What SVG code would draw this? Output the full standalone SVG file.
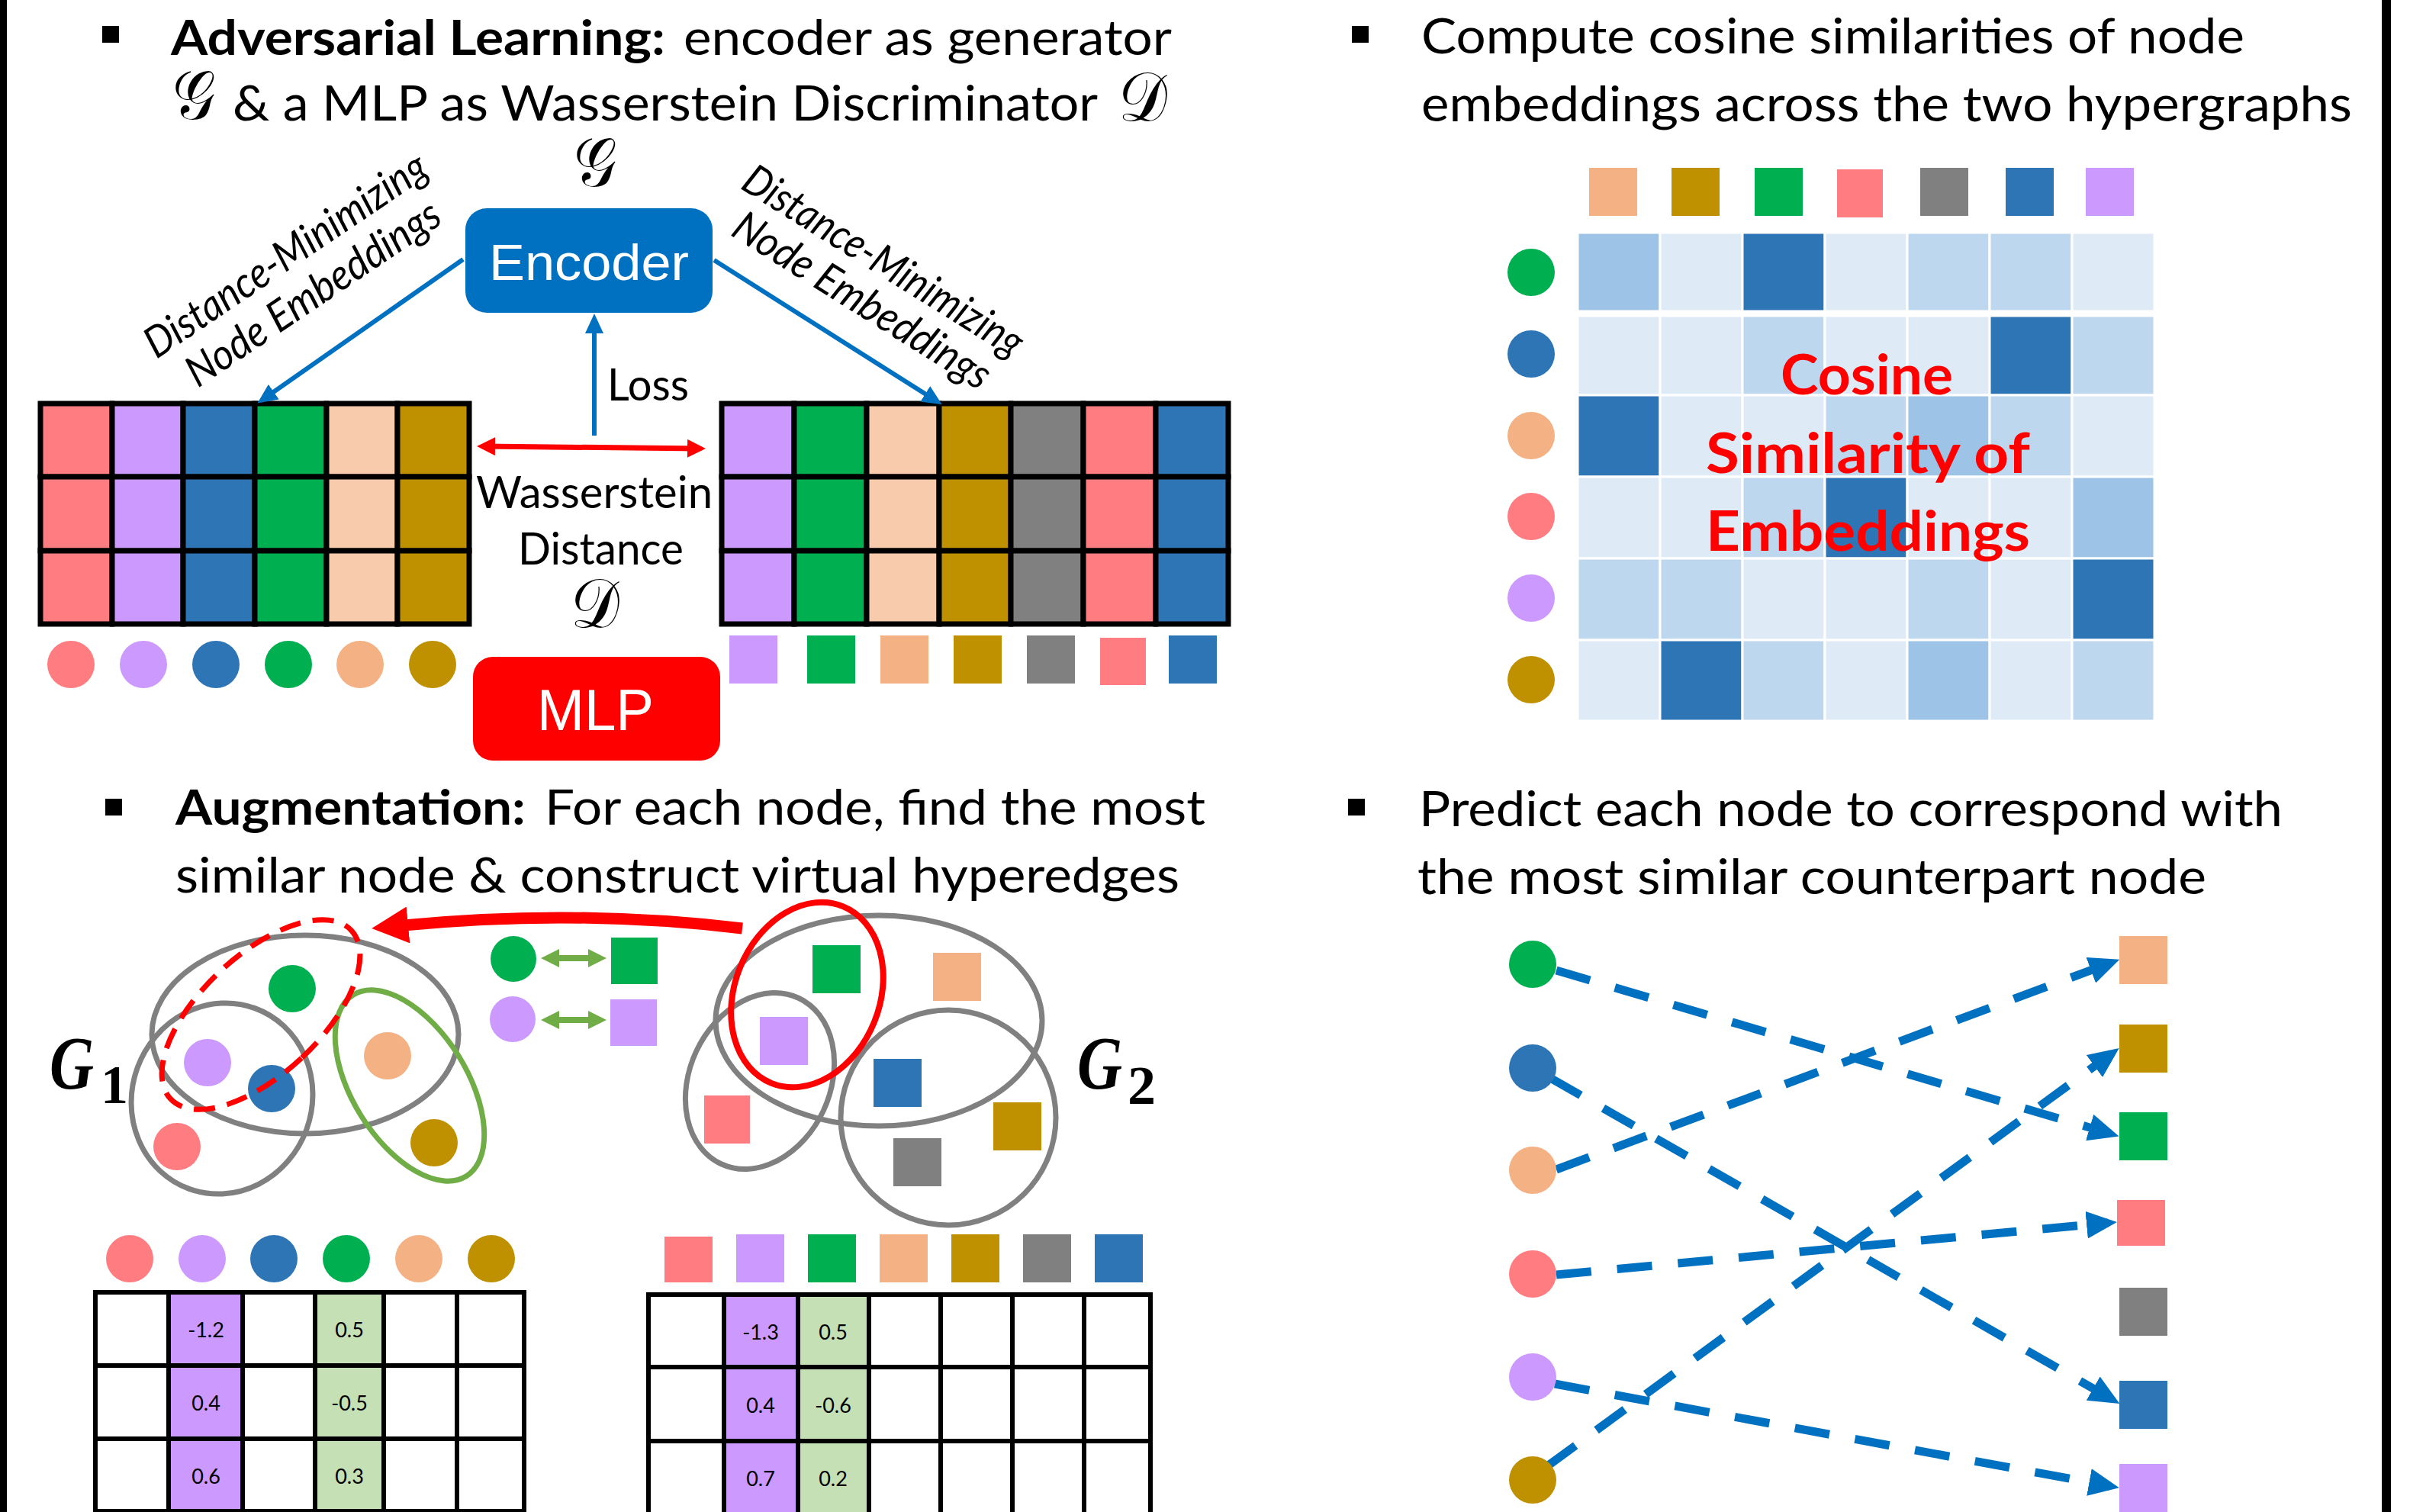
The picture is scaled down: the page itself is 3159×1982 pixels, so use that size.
<svg xmlns="http://www.w3.org/2000/svg" width="3159" height="1982" viewBox="0 0 3159 1982">
  <style>
    .h{font-family:Lato,"Open Sans",sans-serif;font-size:64px;fill:#000}
    .bd{font-weight:bold}
    .lbl{font-family:Lato,"Open Sans",sans-serif;font-size:58px;fill:#000}
    .rot{font-family:Lato,"Open Sans",sans-serif;font-size:56px;font-style:italic;fill:#000;text-anchor:middle}
    .math{font-family:"DejaVu Sans","DejaVu Serif","Noto Sans",serif;font-size:90px;fill:#000}
    .gl{font-family:"Liberation Serif",serif;font-weight:bold;fill:#000}
    .num{font-family:Lato,"Open Sans",sans-serif;font-size:27px;fill:#000;text-anchor:middle}
    .cos{font-family:Lato,"Open Sans",sans-serif;font-size:72px;font-weight:bold;fill:#FF0000}
    .box{font-family:"Liberation Sans",Arial,sans-serif;fill:#fff}
    .cell{stroke:#000;stroke-width:7}
    .tcell{stroke:#000;stroke-width:6}
    .hm{stroke:#fff;stroke-width:3}
    .he{fill:none;stroke:#808080;stroke-width:7}
    .pink{fill:#FF7C80}.lav{fill:#CC99FF}.blue{fill:#2E75B6}.green{fill:#00B050}
    .peach{fill:#F4B183}.lpeach{fill:#F8CBAD}.gold{fill:#BF9000}.gray{fill:#808080}
    .lgreen{fill:#C5E0B4}.white{fill:#fff}
    .m0{fill:#2E75B6}.m1{fill:#9DC3E6}.m2{fill:#BDD7EE}.m3{fill:#DEEBF7}
    .enc{fill:none;stroke:#0070C0;stroke-width:6}
    .pred{fill:none;stroke:#0070C0;stroke-width:11;stroke-dasharray:46 34}
  </style>
  <defs>
    <marker id="blueHead" markerUnits="userSpaceOnUse" markerWidth="26" markerHeight="24" viewBox="0 0 26 24" refX="18" refY="12" orient="auto">
      <path d="M0,0 L26,12 L0,24 z" fill="#0070C0"/>
    </marker>
    <marker id="redHead" markerUnits="userSpaceOnUse" markerWidth="24" markerHeight="24" viewBox="0 0 24 24" refX="16" refY="12" orient="auto-start-reverse">
      <path d="M0,0 L24,12 L0,24 z" fill="#FF0000"/>
    </marker>
    <marker id="greenHead" markerUnits="userSpaceOnUse" markerWidth="24" markerHeight="24" viewBox="0 0 24 24" refX="16" refY="12" orient="auto-start-reverse">
      <path d="M0,0 L24,12 L0,24 z" fill="#70AD47"/>
    </marker>
    <marker id="bigRedHead" markerUnits="userSpaceOnUse" markerWidth="48" markerHeight="48" viewBox="0 0 48 48" refX="6" refY="24" orient="auto">
      <path d="M0,0 L48,24 L0,48 z" fill="#FF0000"/>
    </marker>
    <marker id="dashHead" markerUnits="userSpaceOnUse" markerWidth="40" markerHeight="36" viewBox="0 0 40 36" refX="28" refY="18" orient="auto">
      <path d="M0,0 L40,18 L0,36 z" fill="#0070C0"/>
    </marker>
  </defs>

  <rect width="3159" height="1982" fill="#fff"/>
  <!-- frame lines -->
  <rect x="0" y="0" width="9" height="1982" fill="#000"/>
  <rect x="3122" y="0" width="12" height="1982" fill="#000"/>

  <!-- ===== Panel 1: adversarial learning ===== -->
  <g id="title-adversarial">
    <rect x="134" y="34" width="22" height="22" fill="#000"/>
    <text class="h bd" x="224" y="72" textLength="648" lengthAdjust="spacingAndGlyphs">Adversarial Learning:</text>
    <text class="h" x="896" y="72" textLength="640" lengthAdjust="spacingAndGlyphs">encoder as generator</text>
    <text class="math" x="226" y="156" textLength="56" lengthAdjust="spacingAndGlyphs">𝒢</text>
    <text class="h" x="305" y="158" textLength="1134" lengthAdjust="spacingAndGlyphs">&amp; a MLP as Wasserstein Discriminator</text>
    <text class="math" x="1466" y="158" textLength="64" lengthAdjust="spacingAndGlyphs">𝒟</text>
  </g>

  <g id="encoder">
    <text class="math" x="752" y="244" textLength="56" lengthAdjust="spacingAndGlyphs">𝒢</text>
    <rect x="610" y="273" width="324" height="137" rx="28" fill="#0070C0"/>
    <text class="box" x="641" y="367" font-size="66" textLength="262" lengthAdjust="spacingAndGlyphs">Encoder</text>
  </g>

  <g id="mlp">
    <rect x="620" y="861" width="324" height="136" rx="26" fill="#FF0000"/>
    <text class="box" x="704" y="957" font-size="76" textLength="153" lengthAdjust="spacingAndGlyphs">MLP</text>
  </g>

  <g id="label-wasserstein">
    <text class="lbl" x="796" y="525" font-size="56" textLength="107" lengthAdjust="spacingAndGlyphs">Loss</text>
    <text class="lbl" x="624" y="666" textLength="310" lengthAdjust="spacingAndGlyphs">Wasserstein</text>
    <text class="lbl" x="679" y="740" textLength="217" lengthAdjust="spacingAndGlyphs">Distance</text>
    <text class="math" x="748" y="822" textLength="64" lengthAdjust="spacingAndGlyphs">𝒟</text>
  </g>

  <g id="label-left-embed">
    <text class="rot" transform="translate(385 350) rotate(-34)" textLength="434" lengthAdjust="spacingAndGlyphs">Distance-Minimizing</text>
    <text class="rot" transform="translate(421 400) rotate(-34)" textLength="390" lengthAdjust="spacingAndGlyphs">Node Embeddings</text>
  </g>
  <g id="label-right-embed">
    <text class="rot" transform="translate(1148 358) rotate(32)" textLength="422" lengthAdjust="spacingAndGlyphs">Distance-Minimizing</text>
    <text class="rot" transform="translate(1120 410) rotate(32)" textLength="387" lengthAdjust="spacingAndGlyphs">Node Embeddings</text>
  </g>

  <!-- embedding matrix of hypergraph 1 -->
  <g id="emb-grid-1">
    <rect class="cell pink" x="53" y="529" width="94" height="96"/>
    <rect class="cell lav" x="147" y="529" width="93" height="96"/>
    <rect class="cell blue" x="240" y="529" width="94" height="96"/>
    <rect class="cell green" x="334" y="529" width="94" height="96"/>
    <rect class="cell lpeach" x="428" y="529" width="93" height="96"/>
    <rect class="cell gold" x="521" y="529" width="94" height="96"/>
    <rect class="cell pink" x="53" y="625" width="94" height="97"/>
    <rect class="cell lav" x="147" y="625" width="93" height="97"/>
    <rect class="cell blue" x="240" y="625" width="94" height="97"/>
    <rect class="cell green" x="334" y="625" width="94" height="97"/>
    <rect class="cell lpeach" x="428" y="625" width="93" height="97"/>
    <rect class="cell gold" x="521" y="625" width="94" height="97"/>
    <rect class="cell pink" x="53" y="722" width="94" height="96"/>
    <rect class="cell lav" x="147" y="722" width="93" height="96"/>
    <rect class="cell blue" x="240" y="722" width="94" height="96"/>
    <rect class="cell green" x="334" y="722" width="94" height="96"/>
    <rect class="cell lpeach" x="428" y="722" width="93" height="96"/>
    <rect class="cell gold" x="521" y="722" width="94" height="96"/>
  </g>
  <g id="emb-nodes-1">
    <circle class="pink" cx="93" cy="871" r="31"/>
    <circle class="lav" cx="188" cy="871" r="31"/>
    <circle class="blue" cx="283" cy="871" r="31"/>
    <circle class="green" cx="378" cy="871" r="31"/>
    <circle class="peach" cx="472" cy="871" r="31"/>
    <circle class="gold" cx="567" cy="871" r="31"/>
  </g>

  <!-- embedding matrix of hypergraph 2 -->
  <g id="emb-grid-2">
    <rect class="cell lav" x="946" y="529" width="95" height="96"/>
    <rect class="cell green" x="1041" y="529" width="95" height="96"/>
    <rect class="cell lpeach" x="1136" y="529" width="95" height="96"/>
    <rect class="cell gold" x="1231" y="529" width="94" height="96"/>
    <rect class="cell gray" x="1325" y="529" width="95" height="96"/>
    <rect class="cell pink" x="1420" y="529" width="95" height="96"/>
    <rect class="cell blue" x="1515" y="529" width="95" height="96"/>
    <rect class="cell lav" x="946" y="625" width="95" height="97"/>
    <rect class="cell green" x="1041" y="625" width="95" height="97"/>
    <rect class="cell lpeach" x="1136" y="625" width="95" height="97"/>
    <rect class="cell gold" x="1231" y="625" width="94" height="97"/>
    <rect class="cell gray" x="1325" y="625" width="95" height="97"/>
    <rect class="cell pink" x="1420" y="625" width="95" height="97"/>
    <rect class="cell blue" x="1515" y="625" width="95" height="97"/>
    <rect class="cell lav" x="946" y="722" width="95" height="96"/>
    <rect class="cell green" x="1041" y="722" width="95" height="96"/>
    <rect class="cell lpeach" x="1136" y="722" width="95" height="96"/>
    <rect class="cell gold" x="1231" y="722" width="94" height="96"/>
    <rect class="cell gray" x="1325" y="722" width="95" height="96"/>
    <rect class="cell pink" x="1420" y="722" width="95" height="96"/>
    <rect class="cell blue" x="1515" y="722" width="95" height="96"/>
  </g>
  <g id="emb-nodes-2">
    <rect class="lav" x="956" y="833" width="63" height="63"/>
    <rect class="green" x="1058" y="833" width="63" height="63"/>
    <rect class="peach" x="1154" y="833" width="63" height="63"/>
    <rect class="gold" x="1250" y="833" width="63" height="63"/>
    <rect class="gray" x="1346" y="833" width="63" height="63"/>
    <rect class="pink" x="1442" y="836" width="60" height="62"/>
    <rect class="blue" x="1532" y="833" width="63" height="63"/>
  </g>

  <!-- ===== Panel 2: cosine similarity ===== -->
  <g id="title-cosine">
    <rect x="1772" y="34" width="22" height="22" fill="#000"/>
    <text class="h" x="1863" y="70" textLength="1079" lengthAdjust="spacingAndGlyphs">Compute cosine similarities of node</text>
    <text class="h" x="1863" y="159" textLength="1220" lengthAdjust="spacingAndGlyphs">embeddings across the two hypergraphs</text>
  </g>
  <g id="cos-col-nodes">
    <rect class="peach" x="2083" y="220" width="63" height="63"/>
    <rect class="gold" x="2191" y="220" width="63" height="63"/>
    <rect class="green" x="2300" y="220" width="63" height="63"/>
    <rect class="pink" x="2408" y="222" width="60" height="63"/>
    <rect class="gray" x="2517" y="220" width="63" height="63"/>
    <rect class="blue" x="2629" y="220" width="63" height="63"/>
    <rect class="lav" x="2734" y="220" width="63" height="63"/>
  </g>
  <g id="cos-row-nodes">
    <circle class="green" cx="2007" cy="357" r="31"/>
    <circle class="blue" cx="2007" cy="464" r="31"/>
    <circle class="peach" cx="2007" cy="571" r="31"/>
    <circle class="pink" cx="2007" cy="677" r="31"/>
    <circle class="lav" cx="2007" cy="784" r="31"/>
    <circle class="gold" cx="2007" cy="891" r="31"/>
  </g>
  <g id="cos-matrix">
    <!-- row 1 -->
    <rect class="hm m1" x="2068" y="305" width="108" height="103"/>
    <rect class="hm m3" x="2176" y="305" width="108" height="103"/>
    <rect class="hm m0" x="2284" y="305" width="108" height="103"/>
    <rect class="hm m3" x="2392" y="305" width="108" height="103"/>
    <rect class="hm m2" x="2500" y="305" width="108" height="103"/>
    <rect class="hm m2" x="2608" y="305" width="108" height="103"/>
    <rect class="hm m3" x="2716" y="305" width="108" height="103"/>
    <!-- row 2 -->
    <rect class="hm m3" x="2068" y="414" width="108" height="104"/>
    <rect class="hm m3" x="2176" y="414" width="108" height="104"/>
    <rect class="hm m2" x="2284" y="414" width="108" height="104"/>
    <rect class="hm m3" x="2392" y="414" width="108" height="104"/>
    <rect class="hm m3" x="2500" y="414" width="108" height="104"/>
    <rect class="hm m0" x="2608" y="414" width="108" height="104"/>
    <rect class="hm m2" x="2716" y="414" width="108" height="104"/>
    <!-- row 3 -->
    <rect class="hm m0" x="2068" y="518" width="108" height="107"/>
    <rect class="hm m3" x="2176" y="518" width="108" height="107"/>
    <rect class="hm m3" x="2284" y="518" width="108" height="107"/>
    <rect class="hm m2" x="2392" y="518" width="108" height="107"/>
    <rect class="hm m1" x="2500" y="518" width="108" height="107"/>
    <rect class="hm m2" x="2608" y="518" width="108" height="107"/>
    <rect class="hm m3" x="2716" y="518" width="108" height="107"/>
    <!-- row 4 -->
    <rect class="hm m3" x="2068" y="625" width="108" height="107"/>
    <rect class="hm m3" x="2176" y="625" width="108" height="107"/>
    <rect class="hm m2" x="2284" y="625" width="108" height="107"/>
    <rect class="hm m0" x="2392" y="625" width="108" height="107"/>
    <rect class="hm m3" x="2500" y="625" width="108" height="107"/>
    <rect class="hm m3" x="2608" y="625" width="108" height="107"/>
    <rect class="hm m1" x="2716" y="625" width="108" height="107"/>
    <!-- row 5 -->
    <rect class="hm m2" x="2068" y="732" width="108" height="107"/>
    <rect class="hm m2" x="2176" y="732" width="108" height="107"/>
    <rect class="hm m3" x="2284" y="732" width="108" height="107"/>
    <rect class="hm m3" x="2392" y="732" width="108" height="107"/>
    <rect class="hm m2" x="2500" y="732" width="108" height="107"/>
    <rect class="hm m3" x="2608" y="732" width="108" height="107"/>
    <rect class="hm m0" x="2716" y="732" width="108" height="107"/>
    <!-- row 6 -->
    <rect class="hm m3" x="2068" y="839" width="108" height="106"/>
    <rect class="hm m0" x="2176" y="839" width="108" height="106"/>
    <rect class="hm m2" x="2284" y="839" width="108" height="106"/>
    <rect class="hm m3" x="2392" y="839" width="108" height="106"/>
    <rect class="hm m1" x="2500" y="839" width="108" height="106"/>
    <rect class="hm m3" x="2608" y="839" width="108" height="106"/>
    <rect class="hm m2" x="2716" y="839" width="108" height="106"/>
  </g>
  <g id="cos-label">
    <text class="cos" x="2334" y="517" textLength="226" lengthAdjust="spacingAndGlyphs">Cosine</text>
    <text class="cos" x="2236" y="620" textLength="425" lengthAdjust="spacingAndGlyphs">Similarity of</text>
    <text class="cos" x="2236" y="722" textLength="425" lengthAdjust="spacingAndGlyphs">Embeddings</text>
  </g>

  <!-- ===== Panel 3: augmentation ===== -->
  <g id="title-augmentation">
    <rect x="138" y="1047" width="22" height="22" fill="#000"/>
    <text class="h bd" x="230" y="1081" textLength="459" lengthAdjust="spacingAndGlyphs">Augmentation:</text>
    <text class="h" x="714" y="1081" textLength="866" lengthAdjust="spacingAndGlyphs">For each node, find the most</text>
    <text class="h" x="230" y="1170" textLength="1316" lengthAdjust="spacingAndGlyphs">similar node &amp; construct virtual hyperedges</text>
  </g>

  <g id="hypergraph-1">
    <ellipse class="he" cx="400" cy="1356" rx="201" ry="130"/>
    <ellipse class="he" cx="291" cy="1440" rx="118" ry="126" transform="rotate(20 291 1440)"/>
    <ellipse cx="537" cy="1423" rx="75" ry="140" fill="none" stroke="#70AD47" stroke-width="7" transform="rotate(-32 537 1423)"/>
    <circle class="green" cx="383" cy="1296" r="31"/>
    <circle class="lav" cx="272" cy="1393" r="31"/>
    <circle class="blue" cx="356" cy="1427" r="31"/>
    <circle class="pink" cx="232" cy="1503" r="31"/>
    <circle class="peach" cx="508" cy="1384" r="31"/>
    <circle class="gold" cx="569" cy="1498" r="31"/>
    <ellipse cx="342" cy="1330" rx="78" ry="162" fill="none" stroke="#FF0000" stroke-width="7" stroke-dasharray="28 16" transform="rotate(47 342 1330)"/>
    <text class="gl" x="65" y="1427" font-size="100" font-style="italic" textLength="58" lengthAdjust="spacingAndGlyphs">G</text>
    <text class="gl" x="132" y="1446" font-size="72" textLength="36" lengthAdjust="spacingAndGlyphs">1</text>
  </g>

  <g id="hypergraph-2">
    <ellipse class="he" cx="1152" cy="1338" rx="214" ry="138"/>
    <ellipse class="he" cx="996" cy="1417" rx="92" ry="120" transform="rotate(25 996 1417)"/>
    <ellipse class="he" cx="1243" cy="1465" rx="141" ry="141"/>
    <rect class="green" x="1065" y="1239" width="63" height="63"/>
    <rect class="peach" x="1223" y="1249" width="63" height="63"/>
    <rect class="lav" x="996" y="1333" width="63" height="63"/>
    <rect class="blue" x="1145" y="1388" width="63" height="63"/>
    <rect class="pink" x="923" y="1436" width="60" height="63"/>
    <rect class="gold" x="1302" y="1445" width="63" height="63"/>
    <rect class="gray" x="1171" y="1492" width="63" height="63"/>
    <ellipse cx="1058" cy="1304" rx="95" ry="125" fill="none" stroke="#FF0000" stroke-width="8" transform="rotate(22 1058 1304)"/>
    <text class="gl" x="1412" y="1427" font-size="100" font-style="italic" textLength="59" lengthAdjust="spacingAndGlyphs">G</text>
    <text class="gl" x="1478" y="1447" font-size="72" textLength="37" lengthAdjust="spacingAndGlyphs">2</text>
  </g>

  <g id="matched-pairs">
    <circle class="green" cx="673" cy="1257" r="30"/>
    <circle class="lav" cx="672" cy="1336" r="30"/>
    <rect class="green" x="801" y="1229" width="61" height="61"/>
    <rect class="lav" x="800" y="1310" width="61" height="61"/>
  </g>

  <!-- feature tables -->
  <g id="feat-nodes-1">
    <circle class="pink" cx="170" cy="1650" r="31"/>
    <circle class="lav" cx="265" cy="1650" r="31"/>
    <circle class="blue" cx="359" cy="1650" r="31"/>
    <circle class="green" cx="454" cy="1650" r="31"/>
    <circle class="peach" cx="549" cy="1650" r="31"/>
    <circle class="gold" cx="644" cy="1650" r="31"/>
  </g>
  <g id="feat-table-1">
    <rect class="tcell white" x="125" y="1694" width="96" height="96"/>
    <rect class="tcell lav" x="221" y="1694" width="97" height="96"/>
    <rect class="tcell white" x="318" y="1694" width="95" height="96"/>
    <rect class="tcell lgreen" x="413" y="1694" width="90" height="96"/>
    <rect class="tcell white" x="503" y="1694" width="96" height="96"/>
    <rect class="tcell white" x="599" y="1694" width="88" height="96"/>
    <rect class="tcell white" x="125" y="1790" width="96" height="96"/>
    <rect class="tcell lav" x="221" y="1790" width="97" height="96"/>
    <rect class="tcell white" x="318" y="1790" width="95" height="96"/>
    <rect class="tcell lgreen" x="413" y="1790" width="90" height="96"/>
    <rect class="tcell white" x="503" y="1790" width="96" height="96"/>
    <rect class="tcell white" x="599" y="1790" width="88" height="96"/>
    <rect class="tcell white" x="125" y="1886" width="96" height="95"/>
    <rect class="tcell lav" x="221" y="1886" width="97" height="95"/>
    <rect class="tcell white" x="318" y="1886" width="95" height="95"/>
    <rect class="tcell lgreen" x="413" y="1886" width="90" height="95"/>
    <rect class="tcell white" x="503" y="1886" width="96" height="95"/>
    <rect class="tcell white" x="599" y="1886" width="88" height="95"/>
    <text class="num" x="270" y="1753">-1.2</text>
    <text class="num" x="270" y="1849">0.4</text>
    <text class="num" x="270" y="1945">0.6</text>
    <text class="num" x="458" y="1753">0.5</text>
    <text class="num" x="458" y="1849">-0.5</text>
    <text class="num" x="458" y="1945">0.3</text>
  </g>

  <g id="feat-nodes-2">
    <rect class="pink" x="871" y="1621" width="63" height="60"/>
    <rect class="lav" x="965" y="1618" width="63" height="63"/>
    <rect class="green" x="1059" y="1618" width="63" height="63"/>
    <rect class="peach" x="1153" y="1618" width="63" height="63"/>
    <rect class="gold" x="1247" y="1618" width="63" height="63"/>
    <rect class="gray" x="1341" y="1618" width="63" height="63"/>
    <rect class="blue" x="1435" y="1618" width="63" height="63"/>
  </g>
  <g id="feat-table-2">
    <rect class="tcell white" x="850" y="1697" width="99" height="95"/>
    <rect class="tcell lav" x="949" y="1697" width="97" height="95"/>
    <rect class="tcell lgreen" x="1046" y="1697" width="93" height="95"/>
    <rect class="tcell white" x="1139" y="1697" width="94" height="95"/>
    <rect class="tcell white" x="1233" y="1697" width="94" height="95"/>
    <rect class="tcell white" x="1327" y="1697" width="94" height="95"/>
    <rect class="tcell white" x="1421" y="1697" width="87" height="95"/>
    <rect class="tcell white" x="850" y="1792" width="99" height="97"/>
    <rect class="tcell lav" x="949" y="1792" width="97" height="97"/>
    <rect class="tcell lgreen" x="1046" y="1792" width="93" height="97"/>
    <rect class="tcell white" x="1139" y="1792" width="94" height="97"/>
    <rect class="tcell white" x="1233" y="1792" width="94" height="97"/>
    <rect class="tcell white" x="1327" y="1792" width="94" height="97"/>
    <rect class="tcell white" x="1421" y="1792" width="87" height="97"/>
    <rect class="tcell white" x="850" y="1889" width="99" height="97"/>
    <rect class="tcell lav" x="949" y="1889" width="97" height="97"/>
    <rect class="tcell lgreen" x="1046" y="1889" width="93" height="97"/>
    <rect class="tcell white" x="1139" y="1889" width="94" height="97"/>
    <rect class="tcell white" x="1233" y="1889" width="94" height="97"/>
    <rect class="tcell white" x="1327" y="1889" width="94" height="97"/>
    <rect class="tcell white" x="1421" y="1889" width="87" height="97"/>
    <text class="num" x="997" y="1756">-1.3</text>
    <text class="num" x="997" y="1852">0.4</text>
    <text class="num" x="997" y="1948">0.7</text>
    <text class="num" x="1092" y="1756">0.5</text>
    <text class="num" x="1092" y="1852">-0.6</text>
    <text class="num" x="1092" y="1948">0.2</text>
  </g>

  <!-- ===== Panel 4: prediction ===== -->
  <g id="title-predict">
    <rect x="1767" y="1047" width="22" height="22" fill="#000"/>
    <text class="h" x="1860" y="1083" textLength="1132" lengthAdjust="spacingAndGlyphs">Predict each node to correspond with</text>
    <text class="h" x="1858" y="1172" textLength="1034" lengthAdjust="spacingAndGlyphs">the most similar counterpart node</text>
  </g>

  <!-- connectors -->
  <g id="connectors">
    <line class="enc" x1="607" y1="340" x2="344" y2="524" marker-end="url(#blueHead)"/>
    <line class="enc" x1="936" y1="341" x2="1228" y2="526" marker-end="url(#blueHead)"/>
    <line class="enc" x1="779" y1="571" x2="779" y2="419" marker-end="url(#blueHead)"/>
    <line x1="633" y1="585" x2="917" y2="588" stroke="#FF0000" stroke-width="7" marker-start="url(#redHead)" marker-end="url(#redHead)"/>
    <path d="M973,1217 Q754,1191 529,1213" fill="none" stroke="#FF0000" stroke-width="15" marker-end="url(#bigRedHead)"/>
    <line x1="717" y1="1256" x2="787" y2="1256" stroke="#70AD47" stroke-width="8" marker-start="url(#greenHead)" marker-end="url(#greenHead)"/>
    <line x1="717" y1="1337" x2="787" y2="1337" stroke="#70AD47" stroke-width="8" marker-start="url(#greenHead)" marker-end="url(#greenHead)"/>
    <line class="pred" x1="2040" y1="1272" x2="2766" y2="1486" marker-end="url(#dashHead)"/>
    <line class="pred" x1="2032" y1="1413" x2="2768" y2="1834" marker-end="url(#dashHead)"/>
    <line class="pred" x1="2040" y1="1533" x2="2767" y2="1262" marker-end="url(#dashHead)"/>
    <line class="pred" x1="2040" y1="1671" x2="2763" y2="1603" marker-end="url(#dashHead)"/>
    <line class="pred" x1="2038" y1="1814" x2="2766" y2="1948" marker-end="url(#dashHead)"/>
    <line class="pred" x1="2028" y1="1922" x2="2768" y2="1381" marker-end="url(#dashHead)"/>
  </g>

  <g id="pred-sources">
    <circle class="green" cx="2009" cy="1264" r="31"/>
    <circle class="blue" cx="2009" cy="1400" r="31"/>
    <circle class="peach" cx="2009" cy="1534" r="31"/>
    <circle class="pink" cx="2009" cy="1670" r="31"/>
    <circle class="lav" cx="2009" cy="1805" r="31"/>
    <circle class="gold" cx="2009" cy="1940" r="31"/>
  </g>
  <g id="pred-targets">
    <rect class="peach" x="2778" y="1227" width="63" height="63"/>
    <rect class="gold" x="2778" y="1343" width="63" height="63"/>
    <rect class="green" x="2778" y="1458" width="63" height="63"/>
    <rect class="pink" x="2775" y="1573" width="63" height="60"/>
    <rect class="gray" x="2778" y="1688" width="63" height="63"/>
    <rect class="blue" x="2778" y="1810" width="63" height="63"/>
    <rect class="lav" x="2778" y="1919" width="63" height="63"/>
  </g>
</svg>
